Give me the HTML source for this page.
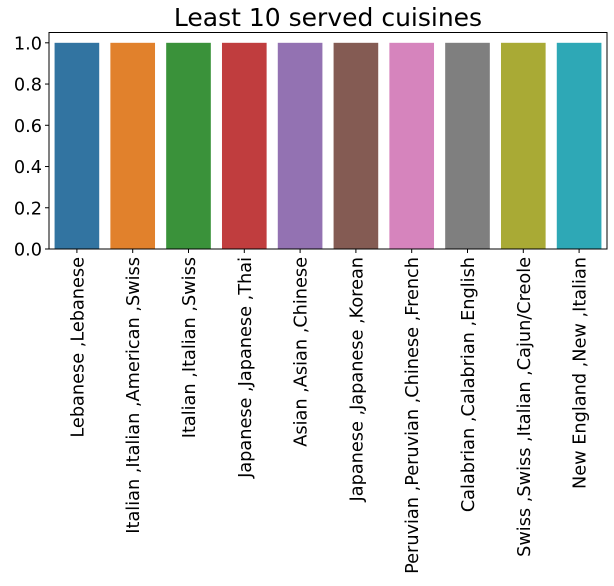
<!DOCTYPE html>
<html><head><meta charset="utf-8"><style>body{margin:0;background:#fff}svg{display:block;font-family:"DejaVu Sans","Liberation Sans",sans-serif}</style></head>
<body>
<svg id="chart" width="614" height="586" xmlns="http://www.w3.org/2000/svg">
<text x="328" y="26" font-size="25" text-anchor="middle" fill="#000">Least 10 served cuisines</text>
<g id="bars"></g><g id="axes"></g>
</svg>
<script>
const categories=["Lebanese ,Lebanese","Italian ,Italian ,American ,Swiss","Italian ,Italian ,Swiss","Japanese ,Japanese ,Thai","Asian ,Asian ,Chinese","Japanese ,Japanese ,Korean","Peruvian ,Peruvian ,Chinese ,French","Calabrian ,Calabrian ,English","Swiss ,Swiss ,Italian ,Cajun/Creole","New England ,New ,Italian"];
const values=[1,1,1,1,1,1,1,1,1,1];
const yTicks=[0,0.2,0.4,0.6,0.8,1.0];
const colors=["#3274a1","#e1812c","#3a923a","#c03d3e","#9372b2","#845b53","#d684bd","#7f7f7f","#a9aa35","#2ea8b6"];
const L=49,R=607,T=32.5,B=249,yMax=1.05;
const NS="http://www.w3.org/2000/svg";
const y=v=>B-(v/yMax)*(B-T);
const bw=(R-L)/categories.length;
const x=i=>L+bw*(i+0.5);
const bars=document.getElementById('bars'),axes=document.getElementById('axes');
function mk(tag,a,p){const e=document.createElementNS(NS,tag);for(const k in a)e.setAttribute(k,a[k]);p.appendChild(e);return e;}
values.forEach((v,i)=>{
 const r=mk('rect',{x:x(i)-bw*0.4,y:y(v),width:bw*0.8,height:B-y(v),fill:colors[i]},bars);
 
 
 const t=mk('line',{x1:x(i),x2:x(i),y1:B,y2:B+4,stroke:'#000'},axes);
 
 
 const lb=mk('text',{x:0,y:0,'font-size':17.7,'text-anchor':'end',transform:`translate(${x(i)+6.5},${B+8}) rotate(-90)`,fill:'#000'},axes);
 lb.textContent=categories[i];
 
 
});
yTicks.forEach(v=>{
 const t=mk('line',{x1:L-4,x2:L,y1:y(v),y2:y(v),stroke:'#000'},axes);
 
 
 const lb=mk('text',{x:L-7,y:y(v)+6.5,'font-size':17.7,'text-anchor':'end',fill:'#000'},axes);
 lb.textContent=v.toFixed(1);
 
 
});
const f=mk('rect',{x:L,y:T,width:R-L,height:B-T,fill:'none',stroke:'#000','stroke-width':1},axes);


</script>
</body></html>
